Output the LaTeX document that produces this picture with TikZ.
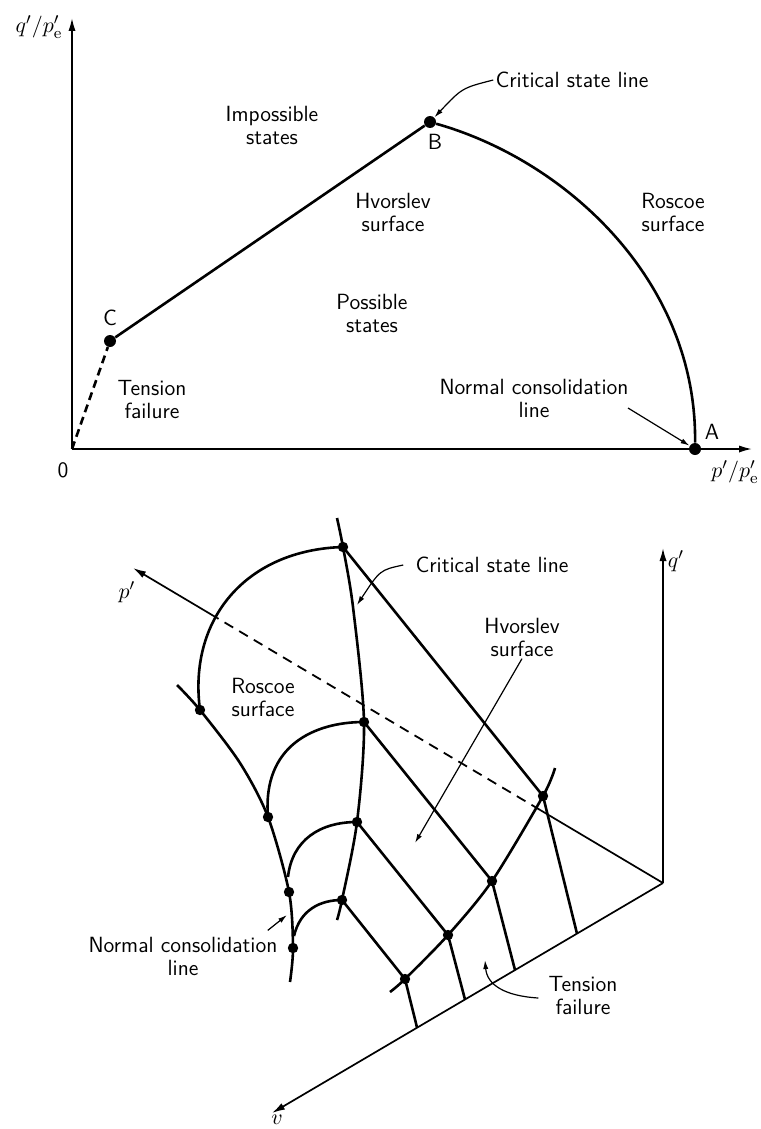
\documentclass[tikz,border=0pt]{standalone}
\usepackage{amsmath}
\usepackage{tikz}
\usetikzlibrary{arrows.meta,calc}

\begin{document}
\begin{tikzpicture}[x=0.5pt,y=-0.5pt,
  every node/.style={font=\sffamily\fontsize{11}{11.5}\selectfont,align=center,inner sep=1pt},
  axis/.style={line width=0.85pt,-{Latex[length=6.5pt,width=3.6pt]}},
  surf/.style={line width=1.3pt},
  pointer/.style={line width=0.6pt,-{Latex[length=4.5pt,width=2.6pt]}},
  dot/.style={circle,fill,inner sep=0pt,minimum size=6pt}]
\useasboundingbox (0,0) rectangle (760,1129);

% plane q'/p'_e against p'/p'_e
\coordinate (O) at (72,449);
\coordinate (qtop) at (72,18);
\coordinate (pend) at (752,449);
\node[dot] (C) at (110,341) {};
\node[dot] (B) at (430,122) {};
\node[dot] (A) at (695,449) {};
\draw[axis] (O) -- (qtop);
\draw[axis] (O) -- (pend);
\draw[surf,dash pattern=on 4pt off 2.5pt] (O) -- (C);
\draw[surf] (C) -- (B) .. controls (565,160) and (697,280) .. (A);
\node (qlab) at (39,27) {$q'/p'_{\mathrm{e}}$};
\node (olab) at (63,470) {0};
\node (plab) at (735,472) {$p'/p'_{\mathrm{e}}$};
\node (clab) at (110,318) {C};
\node (blab) at (435,142) {B};
\node (alab) at (712,432) {A};
\node (imp) at (272,125) {Impossible\\states};
\node (hvtop) at (393,212) {Hvorslev\\surface};
\node (pos) at (372,313) {Possible\\states};
\node (rostop) at (673,212) {Roscoe\\surface};
\node (tentop) at (152,400) {Tension\\failure};
\node (ncltop) at (534,398) {Normal consolidation\\line};
\node (csltop) at (572,80) {Critical state line};
\draw[pointer] (csltop.west) .. controls (462,88) .. (B);
\coordinate (nclfoot) at (628,408);
\draw[pointer] (nclfoot) -- (A);

% state boundary surface in p', q', v
\coordinate (K) at (663,883);
\coordinate (qtip) at (663,548);
\coordinate (vtip) at (272,1113);
\coordinate (ptip) at (133,568);
\coordinate (pa) at ($(K)!0.232!(ptip)$);
\coordinate (pb) at ($(K)!0.8415!(ptip)$);
\draw[axis] (K) -- (qtip);
\draw[axis] (K) -- (vtip);
\draw[line width=0.85pt] (K) -- (pa);
\draw[line width=0.9pt,dash pattern=on 5pt off 3.5pt] (pa) -- (pb);
\draw[axis] (pb) -- (ptip);

\coordinate (D1) at (343,547);
\coordinate (D2) at (364,722);
\coordinate (D3) at (357,822);
\coordinate (D4) at (342,900);
\coordinate (N1) at (200,710);
\coordinate (N2) at (268,817);
\coordinate (N3) at (289,892);
\coordinate (N4) at (293,948);
\coordinate (H1) at (543,796);
\coordinate (H2) at (492,881);
\coordinate (H3) at (448,935);
\coordinate (H4) at (405,979);
\coordinate (F1) at ($(K)!0.22!(vtip)$);
\coordinate (F2) at ($(K)!0.3785!(vtip)$);
\coordinate (F3) at ($(K)!0.5064!(vtip)$);
\coordinate (F4) at ($(K)!0.629!(vtip)$);
\coordinate (a3) at (288,877);
\coordinate (a4) at (294,936);

\draw[surf] plot[smooth] coordinates {(337,518) (D1) (353,607) (D2) (D3) (D4) (337,920)};
\draw[surf] plot[smooth] coordinates {(555,768) (H1) (H2) (H3) (H4) (390,992)};
\draw[surf] plot[smooth] coordinates {(177,685) (N1) (240,763) (N2) (N3) (N4) (290,982)};
\draw[surf] (D1) -- (H1) (D2) -- (H2) (D3) -- (H3) (D4) -- (H4);
\foreach \i in {1,...,4} \draw[surf] (H\i) -- (F\i);
\draw[surf] (N1) .. controls (188,620) and (245,550) .. (D1);
\draw[surf] (N2) .. controls (262,745) and (315,722) .. (D2);
\draw[surf] (a3) .. controls (292,840) and (320,822) .. (D3);
\draw[surf] (a4) .. controls (300,910) and (320,900) .. (D4);
\foreach \p in {D1,D2,D3,D4,N1,N2,N3,N4,H1,H2,H3,H4}
  \fill (\p) circle[radius=2.6pt];

\node (plab2) at (127,592) {$p'$};
\node (qlab2) at (676,561) {$q'$};
\node (vlab) at (277,1120) {$v$};
\node (ros2) at (263,697) {Roscoe\\surface};
\node (hv2) at (522,637) {Hvorslev\\surface};
\node (csl2) at (492,565) {Critical state line};
\node (ncl2) at (183,956) {Normal consolidation\\line};
\node (ten2) at (583,996) {Tension\\failure};
\coordinate (hvend) at (415,843);
\coordinate (cslend) at (357,605);
\coordinate (nclend) at (287,915);
\coordinate (tenend) at (485,960);
\draw[pointer] (hv2.south) -- (hvend);
\draw[pointer] ($(csl2.west)+(-10,0)$) .. controls (380,570) .. (cslend);
\draw[pointer] ($(ncl2.north east)+(-12,-4)$) -- (nclend);
\draw[pointer] ($(ten2.west)+(-8,2)$) .. controls (505,996) and (487,985) .. (tenend);
\end{tikzpicture}
\end{document}
